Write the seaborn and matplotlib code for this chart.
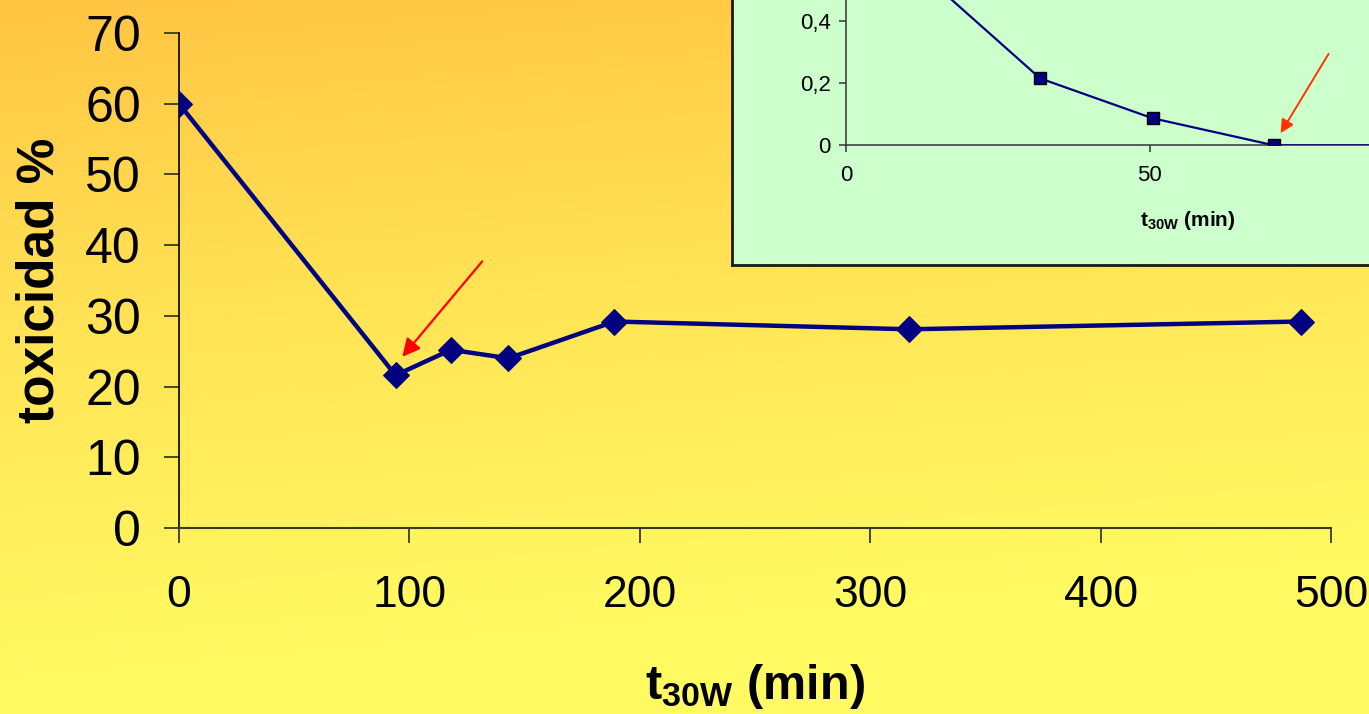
import numpy as np
import matplotlib
matplotlib.use("Agg")
import matplotlib.pyplot as plt
from matplotlib.colors import LinearSegmentedColormap
from matplotlib.ticker import FixedLocator, FixedFormatter
import seaborn as sns

# Toxicity over irradiation time
tiempo_min = [0, 94, 118, 143, 189, 317, 487]
toxicidad = [60.0, 21.6, 25.2, 24.0, 29.2, 28.1, 29.2]
x_ticks = [0, 100, 200, 300, 400, 500]
y_ticks = [0, 10, 20, 30, 40, 50, 60, 70]

# Inset series (concentration vs time)
inset_tiempo = [0, 32, 50.5, 70.5, 94, 118]
inset_valor = [0.77, 0.215, 0.087, 0.0, 0.0, 0.0]
inset_x_ticks = [0, 50]
inset_y_ticks = [0, 0.2, 0.4]
inset_y_labels = ["0", "0,2", "0,4"]

sns.set_style("ticks")
plt.rcParams["font.family"] = ["Liberation Sans", "DejaVu Sans"]
plt.rcParams["mathtext.fontset"] = "custom"
plt.rcParams["mathtext.rm"] = "Liberation Sans"
plt.rcParams["mathtext.bf"] = "Liberation Sans:bold"
plt.rcParams["mathtext.it"] = "Liberation Sans:italic"
for key in ["text.color", "axes.labelcolor", "xtick.labelcolor", "ytick.labelcolor"]:
    plt.rcParams[key] = "black"

W, H = 1369, 714
fig = plt.figure(figsize=(W / 100, H / 100), dpi=100)

# Warm background gradient (orange at top, yellow at bottom)
bg = fig.add_axes([0, 0, 1, 1], zorder=-10)
yy, xx = np.mgrid[0:1:200j, 0:1:300j]
t = np.clip(yy * 1.05 + xx * 0.18, 0, 1)
cmap = LinearSegmentedColormap.from_list("warm", ["#FFC543", "#FFE456", "#FFFA62"])
bg.imshow(t, cmap=cmap, aspect="auto", extent=[0, 1, 1, 0], interpolation="bilinear")
bg.set_axis_off()

# Main chart
ax = fig.add_axes([179 / W, 1 - 528 / H, (1331 - 179) / W, (528 - 33) / H])
ax.set_facecolor("none")
sns.lineplot(x=tiempo_min, y=toxicidad, ax=ax, estimator=None, sort=False,
             color="#000080", linewidth=3.2, marker="D", markersize=13,
             markeredgecolor="#000080", zorder=3)
ax.set_xlim(0, 500)
ax.set_ylim(0, 70)
ax.xaxis.set_major_locator(FixedLocator(x_ticks))
ax.yaxis.set_major_locator(FixedLocator(y_ticks))
for s in ["top", "right"]:
    ax.spines[s].set_visible(False)
ax.spines["left"].set_color("#000000")
ax.spines["left"].set_linewidth(1.2)
ax.spines["bottom"].set_color("#3a3a20")
ax.spines["bottom"].set_linewidth(1.5)
ax.tick_params(axis="x", direction="out", length=10.5, width=1.3, color="#3a3a20",
               labelsize=32, pad=23.5)
ax.tick_params(axis="y", direction="out", length=10.5, width=1.3, color="#3a3a20",
               labelsize=36, pad=17)
ax.set_ylabel("toxicidad %", fontsize=37, fontweight="bold", labelpad=15)
ax.set_xlabel(r"$\mathbf{t}_{\mathbf{30W}}$ (min)", fontsize=35, fontweight="bold",
              labelpad=33)
ax.annotate("", xy=(96.9, 24.2), xytext=(131.6, 37.7),
            arrowprops=dict(arrowstyle="-|>", color="#FF0000", lw=1.6,
                            mutation_scale=27, shrinkA=0, shrinkB=0))

# Inset panel
panel = fig.add_axes([732 / W, 1 - 265 / H, 0.6, 0.6], zorder=5)
panel.set_facecolor("#CCFFCC")
panel.set_xticks([])
panel.set_yticks([])
for s in panel.spines.values():
    s.set_color("#1a1a10")
    s.set_linewidth(2)

px_per_x = 6.07
px_per_y = 311
ins_xmax, ins_ymax = 100, 1.2
ins = fig.add_axes([846 / W, 1 - 145.3 / H, ins_xmax * px_per_x / W,
                    ins_ymax * px_per_y / H], zorder=6)
ins.set_facecolor("none")
sns.lineplot(x=inset_tiempo, y=inset_valor, ax=ins, estimator=None, sort=False,
             color="#000080", linewidth=1.6, marker="s", markersize=8,
             markeredgecolor="#000000", markeredgewidth=1.0, zorder=3)
ins.set_xlim(0, ins_xmax)
ins.set_ylim(0, ins_ymax)
ins.xaxis.set_major_locator(FixedLocator(inset_x_ticks))
ins.yaxis.set_major_locator(FixedLocator(inset_y_ticks))
ins.yaxis.set_major_formatter(FixedFormatter(inset_y_labels))
for s in ["top", "right"]:
    ins.spines[s].set_visible(False)
for s in ["left", "bottom"]:
    ins.spines[s].set_color("#333333")
    ins.spines[s].set_linewidth(1.1)
ins.tick_params(axis="both", direction="out", length=5, width=1.1, color="#333333",
                labelsize=16)
ins.tick_params(axis="x", pad=9)
ins.tick_params(axis="y", pad=6)
ins.set_xlabel(r"$\mathbf{t}_{\mathbf{30W}}$ (min)", fontsize=15, fontweight="bold")
ins.xaxis.set_label_coords((1188 - 846) / (ins_xmax * px_per_x), -64 / (ins_ymax * px_per_y))
ins.set_ylabel("")
ins.annotate("", xy=(71.6, 0.039), xytext=(79.5, 0.294),
             arrowprops=dict(arrowstyle="-|>", color="#FF3300", lw=1.4,
                             mutation_scale=20, shrinkA=0, shrinkB=0))

fig.savefig("out.png", dpi=100)
